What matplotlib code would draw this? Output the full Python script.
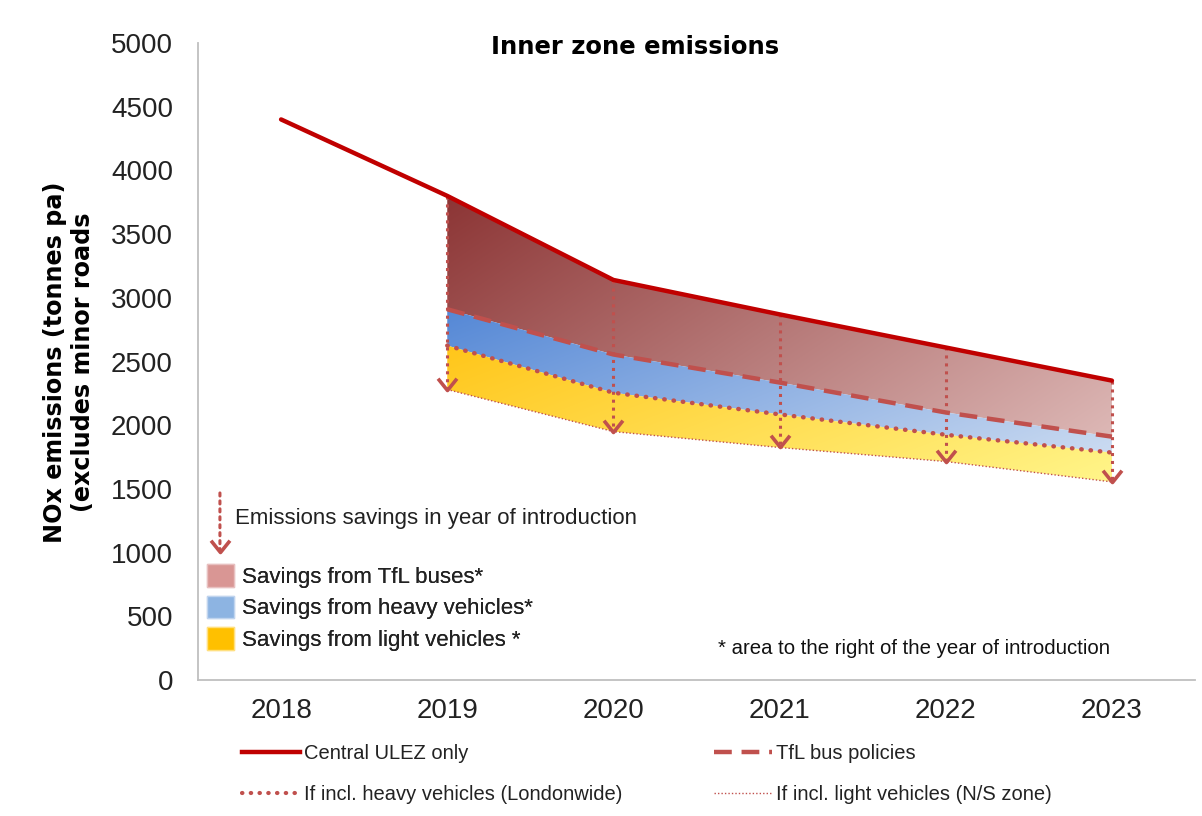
import numpy as np
import matplotlib
matplotlib.use("Agg")
import matplotlib.pyplot as plt
from matplotlib.patches import Patch
from matplotlib.lines import Line2D

# values (tonnes NOx per year, inner zone)
years = ["2018", "2019", "2020", "2021", "2022", "2023"]
central_ulez = [4400, 3800, 3140, 2870, 2610, 2350]
tfl_bus = [2910, 2555, 2335, 2100, 1910]          # from 2019
heavy_veh = [2625, 2255, 2085, 1925, 1785]        # from 2019
light_veh = [2280, 1950, 1825, 1715, 1555]        # from 2019

red = "#C00000"
brick = "#C0504D"

plt.rcParams["font.family"] = ["Liberation Sans", "DejaVu Sans"]

fig = plt.figure(figsize=(12.02, 8.16), dpi=100)
ax = fig.add_axes([198 / 1202, 1 - 680 / 816, 997 / 1202, 637 / 816])

x_all = np.arange(len(years))
x_int = x_all[1:]


def grad_fill(x, top, bot, c0, c1):
    poly = ax.fill_between(x, top, bot, color="none", lw=0)
    path = poly.get_paths()[0]
    c0 = np.array(matplotlib.colors.to_rgb(c0))
    c1 = np.array(matplotlib.colors.to_rgb(c1))
    gx, gy = np.meshgrid(np.linspace(0, 1, 300), np.linspace(1, 0, 300))
    t = np.clip(0.65 * gx + 0.35 * (1 - gy), 0, 1)
    img = (1 - t)[..., None] * c0 + t[..., None] * c1
    im = ax.imshow(img, extent=[min(x), max(x), min(bot), max(top)],
                   aspect="auto", origin="upper", zorder=1, interpolation="bilinear")
    im.set_clip_path(path, transform=ax.transData)


grad_fill(x_int, central_ulez[1:], tfl_bus, "#8C3535", "#DDB8B6")
grad_fill(x_int, tfl_bus, heavy_veh, "#5588D6", "#CBDBF1")
grad_fill(x_int, heavy_veh, light_veh, "#FFC61A", "#FFF58A")

# savings arrows in each year of introduction
for i, xi in enumerate(x_int):
    ax.plot([xi, xi], [central_ulez[i + 1], light_veh[i]], color=brick,
            lw=2.2, ls=(0, (1, 1.6)), zorder=3)
    ax.plot(xi, light_veh[i], marker=[(-1, 1.25), (0, 0), (1, 1.25)],
            ms=17, mfc="none", mec=brick, mew=2.6, zorder=3)

ax.plot(x_all, central_ulez, color=red, lw=3.2, zorder=5, solid_capstyle="round")
ax.plot(x_int, tfl_bus, color=brick, lw=3.2, ls=(0, (4, 2.2)), zorder=4)
ax.plot(x_int, heavy_veh, color=brick, lw=3.2, ls=(0, (0.1, 2.0)),
        dash_capstyle="round", zorder=4)
ax.plot(x_int, light_veh, color=brick, lw=1.0, ls=(0, (1, 1.5)), zorder=4)

ax.set_xlim(-0.5, len(years) - 0.5)
ax.set_ylim(0, 5000)
ax.set_xticks(x_all)
ax.set_xticklabels(years)
ax.set_yticks(np.arange(0, 5001, 500))
ax.tick_params(axis="both", length=0, labelsize=20, colors="#222222")
ax.tick_params(axis="y", pad=18)
ax.tick_params(axis="x", pad=13)
for s in ["top", "right"]:
    ax.spines[s].set_visible(False)
for s in ["left", "bottom"]:
    ax.spines[s].set_color("#BFBFBF")
    ax.spines[s].set_linewidth(1.3)

ax.text(0.438, 0.994, "Inner zone emissions", transform=ax.transAxes,
        ha="center", va="center", fontsize=17.5, fontweight="bold",
        family="DejaVu Sans")
fig.text(69 / 1202, 1 - 362 / 816,
         "NOx emissions (tonnes pa)\n(excludes minor roads",
         rotation=90, ha="center", va="center", multialignment="center",
         fontsize=17.2, fontweight="bold", family="DejaVu Sans", linespacing=1.25)

# in-plot key
ax.annotate("", xy=(0.022, 0.201), xytext=(0.022, 0.298), xycoords="axes fraction",
            arrowprops=dict(arrowstyle="-", color=brick, lw=2.2, ls=(0, (1, 1.6))))
ax.plot(0.022, 0.201, transform=ax.transAxes, marker=[(-1, 1.25), (0, 0), (1, 1.25)],
        ms=17, mfc="none", mec=brick, mew=2.6, clip_on=False)
ax.text(0.037, 0.253, "Emissions savings in year of introduction", transform=ax.transAxes,
        ha="left", va="center", fontsize=16, color="#222222")
key = [Patch(facecolor="#D99694", edgecolor="#E8C0C0", label="Savings from TfL buses*"),
       Patch(facecolor="#8DB4E2", edgecolor="#C0D4EE", label="Savings from heavy vehicles*"),
       Patch(facecolor="#FFC000", edgecolor="#FFE080", label="Savings from light vehicles *")]
leg1 = ax.legend(handles=key, loc="upper left", bbox_to_anchor=(0.002, 0.192),
                 frameon=False, fontsize=16, handlelength=1.25, handleheight=1.2,
                 handletextpad=0.35, labelspacing=0.33, borderaxespad=0, borderpad=0.3)
for t in leg1.get_texts():
    t.set_color("#222222")
ax.add_artist(leg1)
ax.text(0.5216, 0.050, "* area to the right of the year of introduction",
        transform=ax.transAxes, ha="left", va="center", fontsize=14.7, color="#111111")

# series legend below the chart
lines = [Line2D([], [], color=red, lw=3.2, label="Central ULEZ only"),
         Line2D([], [], color=brick, lw=3.0, ls=(0, (0.1, 2.0)), dash_capstyle="round",
                label="If incl. heavy vehicles (Londonwide)"),
         Line2D([], [], color=brick, lw=3.2, ls=(0, (4, 2.2)), label="TfL bus policies"),
         Line2D([], [], color=brick, lw=1.0, ls=(0, (1, 1.5)),
                label="If incl. light vehicles (N/S zone)")]
leg2 = fig.legend(handles=lines, ncol=2, loc="upper left",
                  bbox_to_anchor=(232 / 1202, 1 - 734 / 816), frameon=False,
                  fontsize=14.5, handlelength=2.9, handletextpad=0.2,
                  columnspacing=4.5, labelspacing=1.1, borderpad=0)
for t in leg2.get_texts():
    t.set_color("#222222")

fig.savefig("out.png", dpi=100)
